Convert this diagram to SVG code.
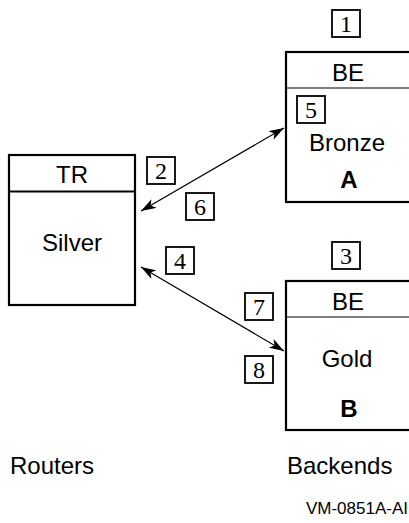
<svg xmlns="http://www.w3.org/2000/svg" width="409" height="523" viewBox="0 0 409 523">
<defs>
<style>
.box{fill:#fff;stroke:#000;stroke-width:2.2}
.div{stroke:#000;stroke-width:1.2}
.lbl{font-family:"Liberation Sans",Arial,sans-serif;font-size:24px;fill:#000;text-anchor:middle}
.bold{font-weight:bold}
.num rect{fill:#fff;stroke:#000;stroke-width:1.8}
.num text{font-family:"Liberation Serif","Times New Roman",serif;font-size:24px;fill:#000;text-anchor:middle}
.conn{stroke:#000;stroke-width:1.2;fill:none;marker-start:url(#ah);marker-end:url(#ah)}
.foot{font-family:"Liberation Sans",Arial,sans-serif;font-size:24px;fill:#000}
</style>
<marker id="ah" viewBox="0 0 15 10" refX="15" refY="5" markerWidth="15" markerHeight="10" markerUnits="userSpaceOnUse" orient="auto-start-reverse">
<path d="M0,0 L15,5 L0,10 L4,5 Z" fill="#000"/>
</marker>
</defs>
<g id="connectors">
<line class="conn" x1="141" y1="211" x2="284" y2="128"/>
<line class="conn" x1="141" y1="267" x2="284" y2="351"/>
</g>
<g id="router-tr">
<rect class="box" x="9" y="155" width="126" height="150"/>
<line class="div" x1="9" y1="191.5" x2="135" y2="191.5" style="stroke-width:2.2"/>
<text class="lbl" x="72" y="183">TR</text>
<text class="lbl" x="72" y="251">Silver</text>
</g>
<g id="backend-a">
<rect class="box" x="286" y="52" width="130" height="150"/>
<line class="div" x1="286" y1="88" x2="409" y2="88"/>
<text class="lbl" x="348" y="81">BE</text>
<text class="lbl" x="347" y="151">Bronze</text>
<text class="lbl bold" x="349" y="188">A</text>
</g>
<g id="backend-b">
<rect class="box" x="286" y="281" width="130" height="149"/>
<line class="div" x1="286" y1="317" x2="409" y2="317"/>
<text class="lbl" x="348" y="310">BE</text>
<text class="lbl" x="347" y="367">Gold</text>
<text class="lbl bold" x="349" y="417">B</text>
</g>
<g id="callout-1" class="num"><rect x="332" y="10" width="28" height="27"/><text x="346" y="32">1</text></g>
<g id="callout-2" class="num"><rect x="147" y="157" width="28" height="27"/><text x="161" y="179">2</text></g>
<g id="callout-3" class="num"><rect x="332" y="242" width="28" height="27"/><text x="346" y="264">3</text></g>
<g id="callout-4" class="num"><rect x="166" y="247" width="28" height="27"/><text x="180" y="269">4</text></g>
<g id="callout-5" class="num"><rect x="297" y="96" width="28" height="27"/><text x="311" y="118">5</text></g>
<g id="callout-6" class="num"><rect x="186" y="193" width="28" height="27"/><text x="200" y="215">6</text></g>
<g id="callout-7" class="num"><rect x="245" y="293" width="28" height="27"/><text x="259" y="315">7</text></g>
<g id="callout-8" class="num"><rect x="245" y="356" width="28" height="27"/><text x="259" y="378">8</text></g>
<g id="footer">
<text class="foot" x="10" y="474">Routers</text>
<text class="foot" x="287" y="474">Backends</text>
<text class="foot" x="408" y="514" style="font-size:17px;text-anchor:end">VM-0851A-AI</text>
</g>
</svg>
